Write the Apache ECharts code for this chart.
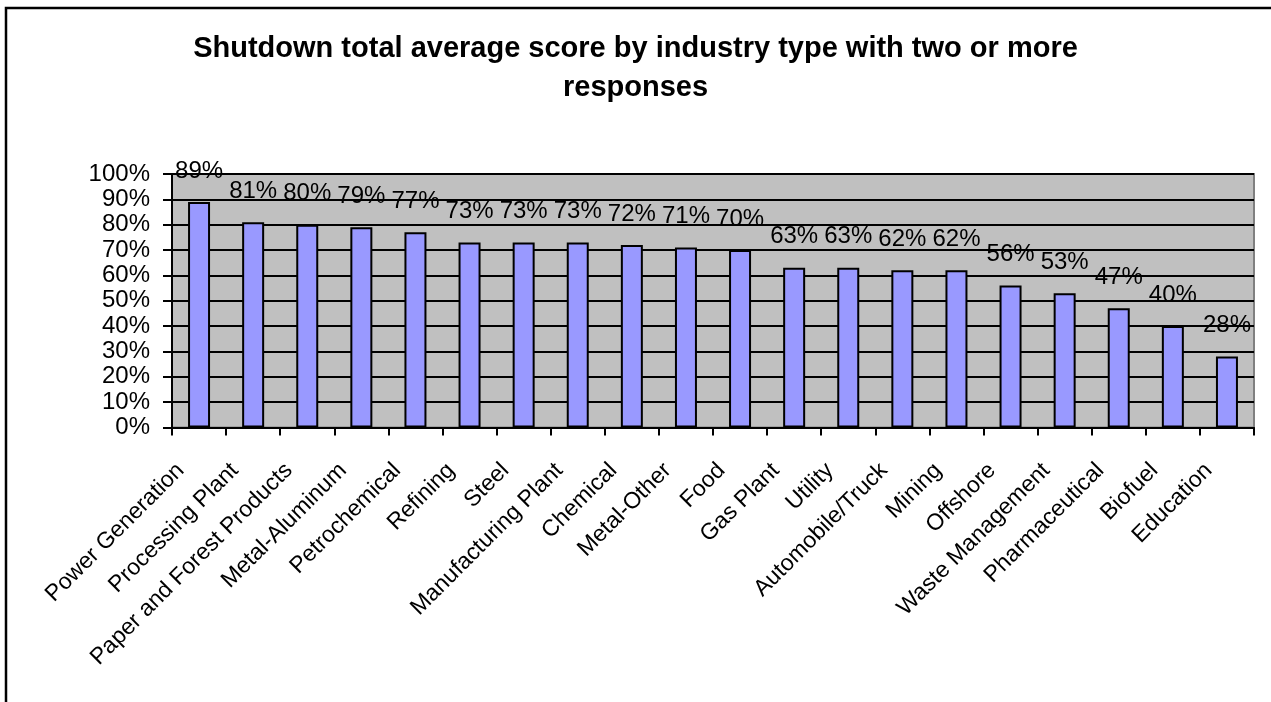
<!DOCTYPE html>
<html>
<head>
<meta charset="utf-8">
<script src="https://cdn.jsdelivr.net/npm/echarts@6/dist/echarts.min.js"></script>
<style>
  html, body { margin: 0; padding: 0; background: #ffffff; }
  #chart { width: 1271px; height: 702px; }
</style>
</head>
<body>
<div id="chart"></div>
<script>
// Industry types, in descending order of score
const industries = [
  'Power Generation', 'Processing Plant', 'Paper and Forest Products', 'Metal-Aluminum',
  'Petrochemical', 'Refining', 'Steel', 'Manufacturing Plant', 'Chemical', 'Metal-Other',
  'Food', 'Gas Plant', 'Utility', 'Automobile/Truck', 'Mining', 'Offshore',
  'Waste Management', 'Pharmaceutical', 'Biofuel', 'Education'
];

// Shutdown total average score (%)
const averageScore = [89, 81, 80, 79, 77, 73, 73, 73, 72, 71, 70, 63, 63, 62, 62, 56, 53, 47, 40, 28];

// Value axis range and step (%)
const scoreMin = 0;
const scoreMax = 100;
const scoreStep = 10;

const titleText = 'Shutdown total average score by industry type with two or more\nresponses';

const FONT = '"Liberation Sans", Arial, Helvetica, sans-serif';

const chart = echarts.init(document.getElementById('chart'), null, { renderer: 'canvas' });

chart.setOption({
  backgroundColor: '#ffffff',
  animation: false,
  title: {
    text: titleText,
    left: 'center',
    top: 29,
    padding: 0,
    textStyle: {
      fontFamily: FONT,
      fontSize: 29,
      fontWeight: 'bold',
      color: '#000000',
      lineHeight: 39
    }
  },
  graphic: [{
    // chart-area frame (left and top edges)
    type: 'polyline',
    silent: true,
    shape: { points: [[6, 702], [6, 8], [1271, 8]] },
    style: { stroke: '#000000', lineWidth: 2.5, fill: null }
  }],
  grid: {
    left: 172,
    top: 174,
    width: 1082,
    height: 253.5,
    show: true,
    backgroundColor: '#c0c0c0',
    borderColor: '#808080',
    borderWidth: 2
  },
  xAxis: {
    type: 'category',
    data: industries,
    boundaryGap: true,
    axisLine: { show: true, lineStyle: { color: '#000000', width: 2 } },
    axisTick: { show: true, inside: false, length: 8, alignWithLabel: false, interval: 0,
                lineStyle: { color: '#000000', width: 2 } },
    axisLabel: {
      interval: 0,
      rotate: 45,
      margin: 21,
      padding: [0, 26, 0, 0],
      fontFamily: FONT,
      fontSize: 23,
      color: '#000000'
    },
    splitLine: { show: false }
  },
  yAxis: {
    type: 'value',
    min: scoreMin,
    max: scoreMax,
    interval: scoreStep,
    axisLine: { show: true, lineStyle: { color: '#000000', width: 2 } },
    axisTick: { show: true, inside: false, length: 9, lineStyle: { color: '#000000', width: 2 } },
    axisLabel: {
      margin: 22,
      fontFamily: FONT,
      fontSize: 24,
      color: '#000000',
      formatter: '{value}%'
    },
    splitLine: { show: true, lineStyle: { color: '#000000', width: 2 } }
  },
  series: [{
    type: 'bar',
    data: averageScore,
    barWidth: 22,
    itemStyle: {
      color: '#9999ff',
      borderColor: '#000000',
      borderWidth: 2
    },
    label: {
      show: true,
      position: 'top',
      distance: 19,
      fontFamily: FONT,
      fontSize: 24,
      color: '#000000',
      formatter: '{c}%'
    }
  }]
});
</script>
</body>
</html>
